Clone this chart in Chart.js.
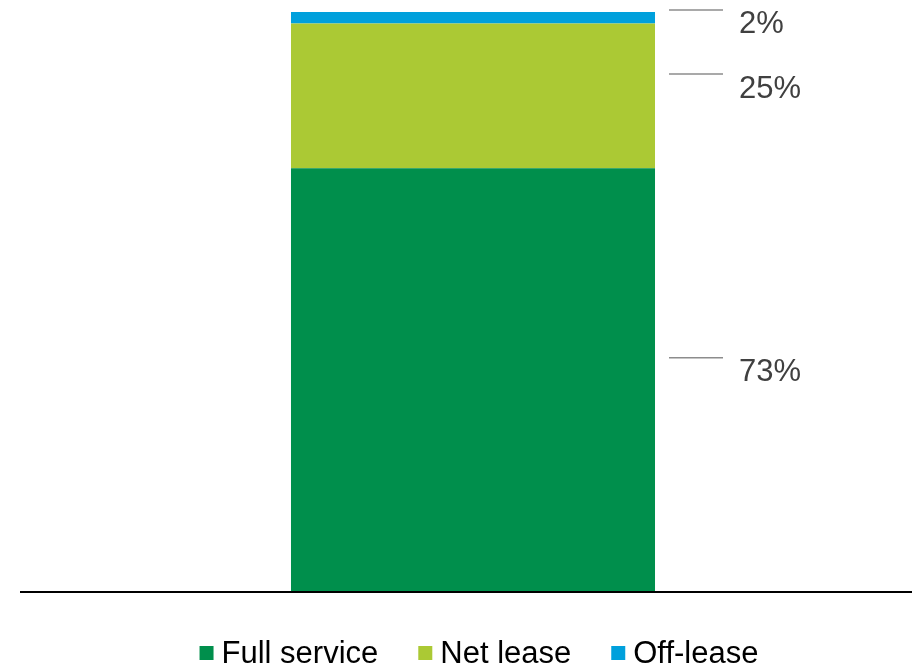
<!DOCTYPE html>
<html lang="en">
<head>
    <meta charset="UTF-8">
    <title>Lease mix</title>
    <script src="https://cdn.jsdelivr.net/npm/chart.js"></script>
    <style>
        html, body { margin: 0; padding: 0; background: #fff; }
        .chart-container { position: relative; width: 912px; height: 665px; }
    </style>
</head>
<body>
    <div class="chart-container">
        <canvas id="mixChart"></canvas>
    </div>
    <script>
        // Data
        const categories = [''];
        const seriesNames = ['Full service', 'Net lease', 'Off-lease'];
        const fullService = [73];
        const netLease = [25];
        const offLease = [2];
        const seriesColors = ['#008f4c', '#abc934', '#00a0dc'];

        const FONT = '"Liberation Sans", Arial, sans-serif';

        // Axis line + leader labels + legend
        const decorPlugin = {
            id: 'decor',
            afterDatasetsDraw(chart) {
                const ctx = chart.ctx;
                const area = chart.chartArea;
                const y = chart.scales.y;

                // base line
                ctx.save();
                ctx.strokeStyle = '#000';
                ctx.lineWidth = 2;
                ctx.beginPath();
                ctx.moveTo(20, area.bottom + 1);
                ctx.lineTo(chart.width, area.bottom + 1);
                ctx.stroke();

                // leader lines and value labels
                let cum = 0;
                chart.data.datasets.forEach((ds, i) => {
                    const bar = chart.getDatasetMeta(i).data[0];
                    const v = ds.data[0];
                    const mid = y.getPixelForValue(cum + v / 2);
                    cum += v;
                    const lineY = Math.max(mid - 22, 10);
                    const textY = Math.max(mid - 7, lineY + 14);
                    const x0 = bar.x + bar.width / 2;
                    ctx.strokeStyle = '#8c8c8c';
                    ctx.lineWidth = 1.5;
                    ctx.beginPath();
                    ctx.moveTo(x0 + 14, lineY);
                    ctx.lineTo(x0 + 68, lineY);
                    ctx.stroke();
                    ctx.fillStyle = '#404040';
                    ctx.font = '31px ' + FONT;
                    ctx.textBaseline = 'middle';
                    ctx.textAlign = 'left';
                    ctx.fillText(v + '%', x0 + 84, textY);
                });

                // legend
                ctx.font = '31px ' + FONT;
                const box = 14, gapText = 8, gapItem = 40;
                const widths = chart.data.datasets.map(ds => box + gapText + ctx.measureText(ds.label).width);
                const total = widths.reduce((a, b) => a + b, 0) + gapItem * (widths.length - 1);
                let lx = 479 - total / 2;
                const ly = 653;
                chart.data.datasets.forEach((ds, i) => {
                    ctx.fillStyle = ds.backgroundColor;
                    ctx.fillRect(lx, ly - box / 2, box, box);
                    ctx.fillStyle = '#000';
                    ctx.fillText(ds.label, lx + box + gapText, ly + 1);
                    lx += widths[i] + gapItem;
                });
                ctx.restore();
            }
        };

        const ctx = document.getElementById('mixChart').getContext('2d');
        new Chart(ctx, {
            type: 'bar',
            data: {
                labels: categories,
                datasets: [
                    { label: seriesNames[0], data: fullService, backgroundColor: seriesColors[0] },
                    { label: seriesNames[1], data: netLease, backgroundColor: seriesColors[1] },
                    { label: seriesNames[2], data: offLease, backgroundColor: seriesColors[2] }
                ]
            },
            options: {
                responsive: true,
                maintainAspectRatio: false,
                animation: false,
                layout: { padding: { top: 12, bottom: 74, left: 34, right: 0 } },
                datasets: {
                    bar: { barPercentage: 1, categoryPercentage: 0.4146, borderWidth: 0 }
                },
                scales: {
                    x: { stacked: true, display: false },
                    y: { stacked: true, display: false, min: 0, max: 100 }
                },
                plugins: {
                    legend: { display: false },
                    tooltip: { enabled: false }
                }
            },
            plugins: [decorPlugin]
        });
    </script>
</body>
</html>
